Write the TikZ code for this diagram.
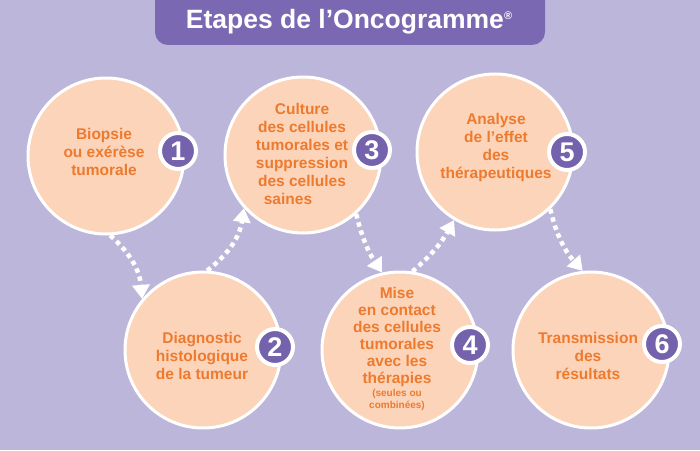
\documentclass[tikz,border=0pt]{standalone}
\usepackage{fontspec}
\setmainfont{Liberation Sans}
\usetikzlibrary{arrows.meta}
\definecolor{bgc}{HTML}{BDB6DB}
\definecolor{titlec}{HTML}{7A69B2}
\definecolor{badgec}{HTML}{7462AD}
\definecolor{peach}{HTML}{FCD4BA}
\definecolor{orangec}{HTML}{EE7A2E}
\begin{document}
\begin{tikzpicture}[x=1pt,y=1pt,
  stepcircle/.style={circle, draw=white, line width=3pt, fill=peach, minimum size=156pt, inner sep=0pt},
  steptext/.style={text=orangec, align=center, inner sep=0pt, font=\fontsize{15.5}{18}\selectfont\bfseries},
  badge/.style={circle, draw=white, line width=4pt, fill=badgec, minimum size=36pt, inner sep=0pt, text=white, font=\fontsize{27}{27}\selectfont\bfseries},
  flow/.style={draw=white, line width=4.5pt, dash pattern=on 4.5pt off 4pt, -{Triangle[width=17pt,length=14pt]}}
]
\useasboundingbox (0,0) rectangle (700,450);
\fill[bgc] (0,0) rectangle (700,450);
% title
\fill[titlec, rounded corners=13pt] (155,405) rectangle (545,470);
\node[text=white, font=\fontsize{26.5}{30}\selectfont\bfseries] (title) at (349,428)
  {Etapes de l’Oncogramme\raisebox{9pt}{\fontsize{11}{11}\selectfont ®}};
% circles
\node[stepcircle] (c1) at (106,294) {};
\node[stepcircle] (c2) at (203,100) {};
\node[stepcircle] (c3) at (303,295) {};
\node[stepcircle] (c4) at (400,100) {};
\node[stepcircle] (c5) at (495,298) {};
\node[stepcircle] (c6) at (591,100) {};
% texts
\node[steptext] (t1) at (104,298) {Biopsie\\ou exérèse\\tumorale};
\node[steptext] (t2) at (202,94) {Diagnostic\\histologique\\de la tumeur};
\node[steptext] (t3) at (302,296) {Culture\\des cellules\\tumorales et\\suppression\\des cellules\\saines\hspace*{28pt}};
\node[steptext, font=\fontsize{15.5}{17}\selectfont\bfseries] (t4) at (397,113) {Mise\\en contact\\des cellules\\tumorales\\avec les\\thérapies};
\node[text=orangec, align=center, inner sep=0pt, font=\fontsize{10}{12}\selectfont\bfseries] (t4b) at (397,50) {(seules ou\\combinées)};
\node[steptext] (t5) at (496,303) {Analyse\\de l’effet\\des\\thérapeutiques};
\node[steptext] (t6) at (588,94) {Transmission\\des\\résultats};
% badges
\node[badge] (b1) at (178,299) {1};
\node[badge] (b2) at (275,103) {2};
\node[badge] (b3) at (372,300) {3};
\node[badge] (b4) at (470,105) {4};
\node[badge] (b5) at (567,298) {5};
\node[badge] (b6) at (662,106) {6};
% arrows
\draw[flow] (c1.-87) to[bend left=22] (c2.140);
\draw[flow] (c2.87) to[bend right=22] (c3.222);
\draw[flow] (c3.-48) to[bend right=10] (c4.103);
\draw[flow] (c4.81) to[bend right=10] (c5.239);
\draw[flow] (c5.-46) to[bend right=14] (c6.96);
\end{tikzpicture}
\end{document}
